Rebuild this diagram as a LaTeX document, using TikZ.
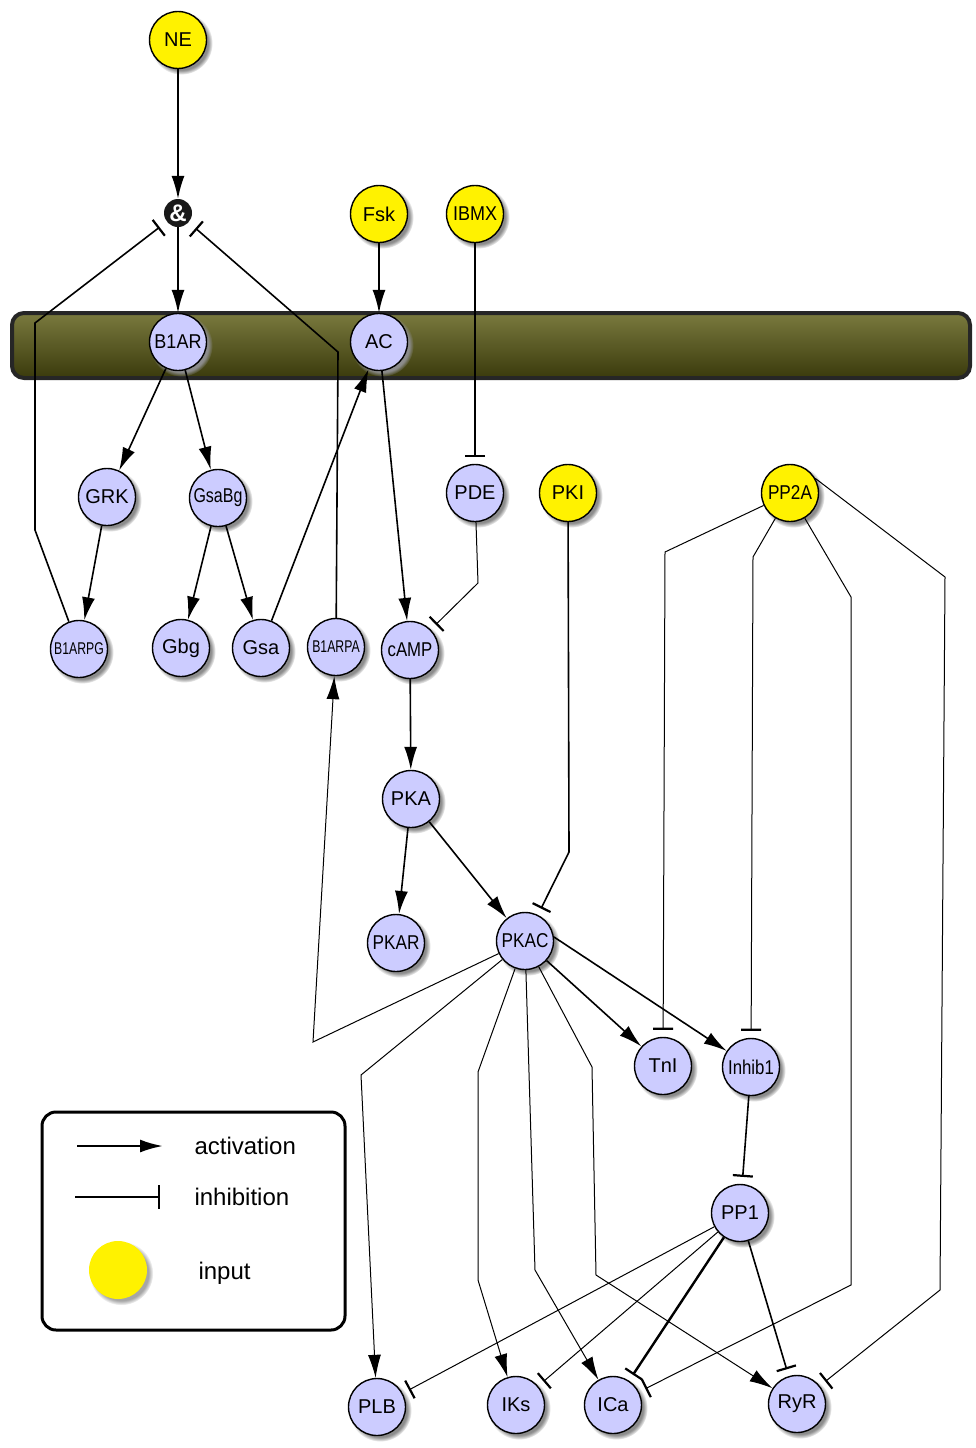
\documentclass[tikz,border=0pt]{standalone}
\usepackage{fontspec}
\setmainfont{Liberation Sans}
\usetikzlibrary{arrows.meta,shadows}
\definecolor{lav}{RGB}{204,204,255}
\definecolor{memtop}{RGB}{122,122,62}
\definecolor{memmid}{RGB}{94,94,36}
\definecolor{membot}{RGB}{58,58,12}
\tikzset{
  species/.style={circle, draw, line width=1.4pt, fill=lav, minimum size=57pt, inner sep=0pt,
    font=\fontsize{20}{22}\selectfont,
    circular drop shadow={shadow xshift=3pt, shadow yshift=-3pt, fill=black!45}},
  input/.style={species, fill=yellow},
  amp/.style={circle, fill=black!90, text=white, minimum size=28pt, inner sep=0pt,
    font=\bfseries\fontsize{24}{24}\selectfont},
  act/.style={-{Latex[length=23pt,width=13pt]}, line width=1.6pt},
  inh/.style={-{Bar[width=20pt,line width=2.2pt]}, shorten >=7pt, line width=1.6pt},
  fine/.style={line width=1pt},
  legtext/.style={anchor=west, font=\fontsize{24}{26}\selectfont}
}
\begin{document}
\begin{tikzpicture}[x=1pt,y=-1pt]
\useasboundingbox (0,0) rectangle (975,1448);
% membrane
\shade[top color=memtop, middle color=memmid, bottom color=membot, rounded corners=12pt] (12,313) rectangle (970,378);
\draw[line width=4pt, rounded corners=12pt, black!85] (12,313) rectangle (970,378);

% inputs
\node[input] (ne) at (178,40) {NE};
\node[amp] (and) at (178,213) {\&};
\node[input] (fsk) at (379,214) {Fsk};
\node[input] (ibmx) at (475,214) {\scalebox{0.9}[1]{IBMX}};
\node[input] (pki) at (568,493) {PKI};
\node[input] (pp2a) at (790,493) {\scalebox{0.86}[1]{PP2A}};

% species
\node[species] (b1ar) at (178,342) {\scalebox{0.9}[1]{B1AR}};
\node[species] (ac) at (379,342) {AC};
\node[species] (grk) at (107,497) {GRK};
\node[species] (gsabg) at (218,498) {\scalebox{0.8}[1]{GsaBg}};
\node[species] (pde) at (475,493) {PDE};
\node[species] (b1arpg) at (79,649) {\fontsize{17}{18}\selectfont\scalebox{0.72}[1]{B1ARPG}};
\node[species] (gbg) at (181,648) {Gbg};
\node[species] (gsa) at (261,648) {Gsa};
\node[species] (b1arpa) at (336,647) {\fontsize{17}{18}\selectfont\scalebox{0.72}[1]{B1ARPA}};
\node[species] (camp) at (410,650) {\scalebox{0.84}[1]{cAMP}};
\node[species] (pka) at (411,799) {PKA};
\node[species] (pkar) at (396,943) {\scalebox{0.86}[1]{PKAR}};
\node[species] (pkac) at (525,941) {\scalebox{0.86}[1]{PKAC}};
\node[species] (tni) at (663,1066) {TnI};
\node[species] (inhib1) at (751,1067) {\scalebox{0.84}[1]{Inhib1}};
\node[species] (pp1) at (740,1213) {PP1};
\node[species] (plb) at (377,1407) {PLB};
\node[species] (iks) at (516,1405) {IKs};
\node[species] (ica) at (613,1405) {ICa};
\node[species] (ryr) at (797,1404) {RyR};

% receptor part
\draw[act] (ne) -- (and);
\draw[act] (and) -- (b1ar);
\draw[inh, shorten >=9pt] (b1arpg) -- (35,530) -- (35,323) -- (and);
\draw[inh, shorten >=9pt] (b1arpa) -- (338,352) -- (and);
\draw[act] (fsk) -- (ac);
\draw[inh] (ibmx) -- (pde);
\draw[act] (b1ar) -- (grk);
\draw[act] (b1ar) -- (gsabg);
\draw[act] (grk) -- (b1arpg);
\draw[act] (gsabg) -- (gbg);
\draw[act] (gsabg) -- (gsa);
\draw[act] (gsa) -- (ac);
\draw[act] (ac) -- (camp);
\draw[inh, fine] (pde) -- (478,583) -- (camp);
\draw[act] (camp) -- (pka);
\draw[act] (pka) -- (pkar);
\draw[act] (pka) -- (pkac);
\draw[inh] (pki) -- (569,852) -- (pkac);

% PKAC targets
\draw[act, fine] (pkac) -- (313,1042) -- (b1arpa);
\draw[act, fine] (pkac) -- (361,1075) -- (plb);
\draw[act, fine] (pkac) -- (478,1072) -- (478,1280) -- (iks);
\draw[act, fine] (pkac) -- (535,1270) -- (ica);
\draw[act, fine] (pkac) -- (592,1067) -- (596,1275) -- (ryr);
\draw[act] (pkac) -- (tni);
\draw[act] (pkac.8) -- (inhib1);

% phosphatases
\draw[inh, fine] (pp2a) -- (665,552) -- (tni);
\draw[inh, fine] (pp2a) -- (753,557) -- (inhib1);
\draw[inh, fine] (pp2a) -- (851,597) -- (851,1285) -- (ica);
\draw[inh, fine] (pp2a.30) -- (945,577) -- (940,1290) -- (ryr);
\draw[inh] (inhib1) -- (pp1);
\draw[inh, fine] (pp1) -- (plb);
\draw[inh, fine] (pp1) -- (iks);
\draw[inh, line width=2.4pt] (pp1) -- (ica);
\draw[inh] (pp1) -- (ryr);

% legend
\draw[line width=3pt, rounded corners=14pt] (42,1112) rectangle (345,1330);
\coordinate (acta) at (77,1146);
\coordinate (actb) at (163,1146);
\draw[act, line width=2.4pt] (acta) -- (actb);
\node[legtext] (actlbl) at (191,1146) {activation};
\coordinate (inha) at (75,1197);
\coordinate (inhb) at (160,1197);
\draw[-{Bar[width=24pt,line width=2.4pt]}, line width=2pt] (inha) -- (inhb);
\node[legtext] (inhlbl) at (191,1197) {inhibition};
\node[circle, fill=yellow, minimum size=58pt,
  circular drop shadow={shadow xshift=3pt, shadow yshift=-3pt, fill=black!35}] (inputdot) at (118,1270) {};
\node[legtext] (inlbl) at (195,1273) {input};
\end{tikzpicture}
\end{document}
